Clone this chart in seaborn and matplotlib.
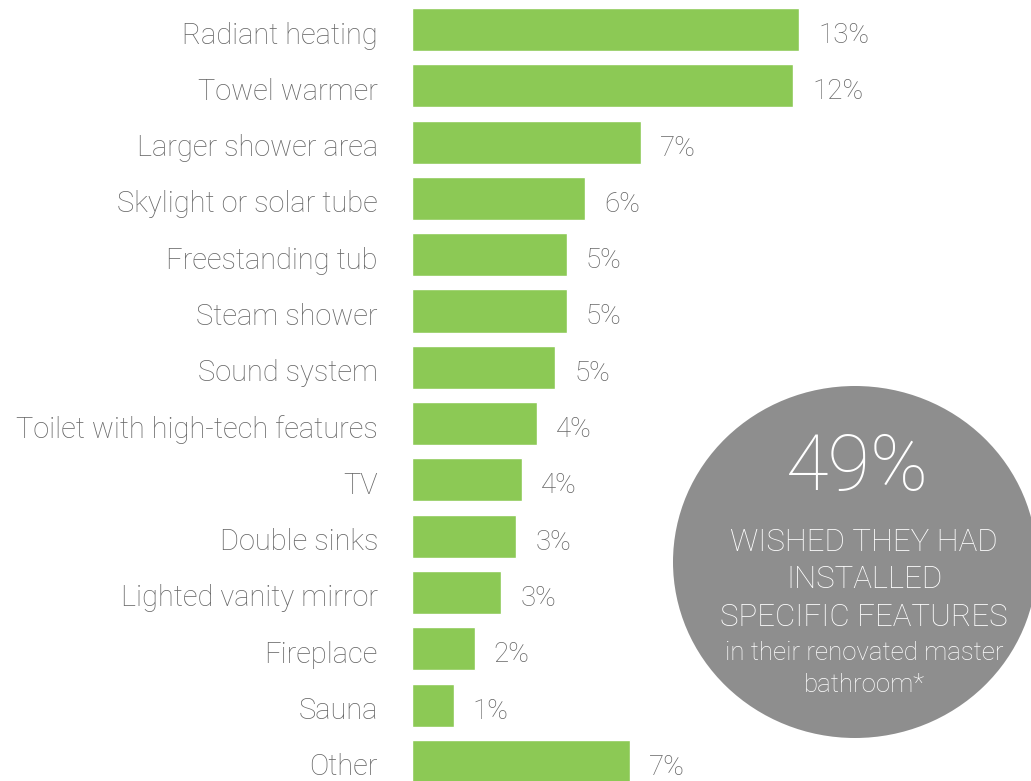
import matplotlib
matplotlib.use("Agg")
import matplotlib.pyplot as plt
from matplotlib.patches import Ellipse
from matplotlib.transforms import ScaledTranslation
import seaborn as sns
import pandas as pd

categories = ["Radiant heating", "Towel warmer", "Larger shower area", "Skylight or solar tube",
              "Freestanding tub", "Steam shower", "Sound system", "Toilet with high-tech features",
              "TV", "Double sinks", "Lighted vanity mirror", "Fireplace", "Sauna", "Other"]
values = [13.0, 12.8, 7.7, 5.8, 5.2, 5.2, 4.8, 4.2, 3.7, 3.5, 3.0, 2.1, 1.4, 7.3]
value_labels = ["13%", "12%", "7%", "6%", "5%", "5%", "5%", "4%", "4%", "3%", "3%", "2%", "1%", "7%"]

headline = "49%"
callout_lines = ["WISHED THEY HAD", "INSTALLED", "SPECIFIC FEATURES"]
callout_small = ["in their renovated master", "bathroom*"]

sns.set_theme(style="white")
plt.rcParams['font.family'] = ['Roboto', 'DejaVu Sans']

W, H = 1031, 781
fig = plt.figure(figsize=(W / 100, H / 100), dpi=100)
ax = fig.add_axes([412 / W, 0, (W - 412) / W, 1])

df = pd.DataFrame({"feature": categories, "pct": values})
sns.barplot(data=df, y="feature", x="pct", orient="h", color="#8cc955",
            saturation=1, width=0.765, ax=ax)

ax.set_xlim(0, (W - 412) / 29.8)
ax.set_ylim((H - 29.5) / 56.3, -29.5 / 56.3)
ax.set_xlabel("")
ax.set_ylabel("")
ax.set_xticks([])
for s in ax.spines.values():
    s.set_visible(False)
ax.tick_params(axis="y", length=0, pad=24.5, labelsize=20.9, labelcolor="#666666")
shift = ScaledTranslation(0, -3 / 100, fig.dpi_scale_trans)
for t in ax.get_yticklabels():
    t.set_verticalalignment("center_baseline")
    t.set_fontweight("light")
    t.set_transform(t.get_transform() + shift)

for i, (v, lab) in enumerate(zip(values, value_labels)):
    ax.text(v + 19 / 29.8, i + 3 / 56.3, lab, va="center_baseline", ha="left", fontsize=20,
            color="#666666", fontweight="light")

circle = Ellipse((855 / W, 1 - 562 / H), 364 / W, 352 / H, transform=fig.transFigure,
                 facecolor="#8e8e8e", edgecolor="none", zorder=1)
fig.add_artist(circle)

fig.text(857 / W, 1 - 490 / H, headline, ha="center", va="baseline", fontsize=56,
         color="white", fontweight=100)
for y, line in zip([551, 588, 626], callout_lines):
    fig.text(864 / W, 1 - y / H, line, ha="center", va="baseline", fontsize=22.5,
             color="white", fontweight="light")
for y, line in zip([660, 692], callout_small):
    fig.text(864 / W, 1 - y / H, line, ha="center", va="baseline", fontsize=18.6,
             color="white", fontweight="light")

fig.savefig("out.png", dpi=100)
